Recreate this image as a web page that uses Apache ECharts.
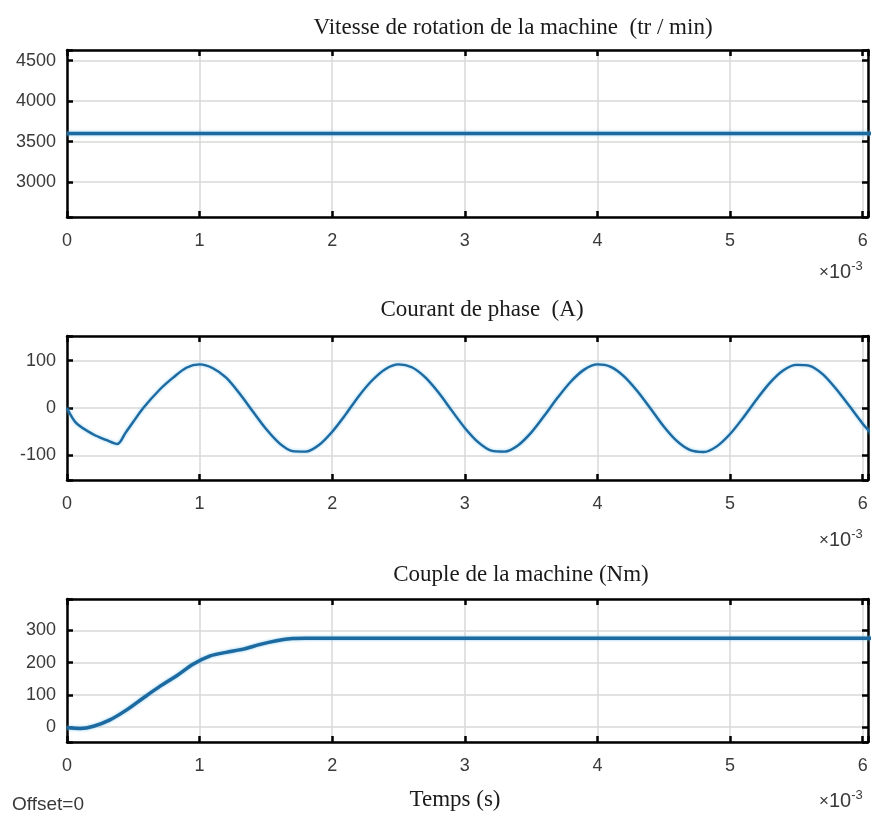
<!DOCTYPE html>
<html>
<head>
<meta charset="utf-8">
<script src="https://cdn.jsdelivr.net/npm/echarts@6/dist/echarts.min.js"></script>
<style>
  html, body { margin: 0; padding: 0; background: #fff; }
  #chart { width: 875px; height: 817px; }
</style>
</head>
<body>
<div id="chart"></div>
<script>
// temps en ms (axe affiché en x10^-3 s)
const timeTicks = [0, 1, 2, 3, 4, 5, 6];

const speedTicks = [3000, 3500, 4000, 4500];
const speedTime = [0, 6.07];
const speedValue = [3600, 3600];

const currentTicks = [-100, 0, 100];
const currentTime = [0, 0.07, 0.2, 0.3, 0.38, 0.44, 0.5, 0.575, 0.7, 0.8, 0.9, 1.0, 1.1, 1.2, 1.3, 1.4, 1.5,
  1.6, 1.7, 1.8, 1.9, 2.0, 2.1, 2.2, 2.3, 2.4, 2.5, 2.6, 2.7, 2.8, 2.9, 3.0, 3.1, 3.2, 3.3, 3.4, 3.5,
  3.6, 3.7, 3.8, 3.9, 4.0, 4.1, 4.2, 4.3, 4.4, 4.5, 4.6, 4.7, 4.8, 4.9, 5.0, 5.1, 5.2, 5.3, 5.4, 5.5,
  5.6, 5.7, 5.8, 5.9, 6.0, 6.07];
const currentValue = [0, -32, -56, -68, -76, -53, -29, 0, 39, 64, 85, 92, 84, 64, 31, -7, -44,
  -74, -91, -92, -78, -50, -14, 25, 58, 82, 92, 86, 65, 33, -5, -42, -72, -90, -92, -79, -52,
  -16, 22, 56, 81, 92, 87, 67, 36, -1, -39, -70, -89, -93, -81, -55, -20, 18, 53, 79, 91,
  89, 71, 40, 4, -33, -55];

const torqueTicks = [0, 100, 200, 300];
const torqueTime = [0, 0.1, 0.2, 0.32, 0.45, 0.575, 0.7, 0.83, 0.95, 1.08, 1.2, 1.33, 1.45, 1.58, 1.7, 1.8, 6.07];
const torqueValue = [-3, -5, 2, 21, 53, 90, 126, 160, 195, 221, 232, 242, 256, 268, 275, 276, 276];

const xMax = 6.04;
const lineColor = '#1c6aa0';
const labelFont = { color: '#3a3a3a', fontSize: 18, fontFamily: 'Liberation Sans' };

const grids = [
  { left: 67, top: 50, width: 801, height: 167 },
  { left: 67, top: 336, width: 801, height: 144 },
  { left: 67, top: 599, width: 801, height: 143 }
];
const yRanges = [[2570, 4630], [-152, 152], [-47, 398]];
const yTickLists = [speedTicks, currentTicks, torqueTicks];
const ySplit = [4, 3, 4];

function pair(t, v) {
  return t.map((x, i) => [x, v[i]]);
}

let xAxes = [], yAxes = [];
grids.forEach((g, i) => {
  ['bottom', 'top'].forEach(pos => {
    xAxes.push({
      type: 'value', gridIndex: i, position: pos,
      min: 0, max: xMax, splitNumber: 6,
      axisLine: { show: true, onZero: false, lineStyle: { color: '#000', width: 2.5 } },
      axisTick: { show: true, inside: true, length: 6, lineStyle: { color: '#000', width: 2.5 } },
      axisLabel: {
        show: pos === 'bottom', margin: 15, ...labelFont,
        formatter: v => timeTicks.includes(v) ? String(v) : ''
      },
      splitLine: { show: pos === 'bottom', lineStyle: { color: '#d9d9d9', width: 1.5 } }
    });
  });
  ['left', 'right'].forEach(pos => {
    yAxes.push({
      type: 'value', gridIndex: i, position: pos,
      min: yRanges[i][0], max: yRanges[i][1], splitNumber: ySplit[i],
      axisLine: { show: true, onZero: false, lineStyle: { color: '#000', width: 2.5 } },
      axisTick: { show: true, inside: true, length: 6, lineStyle: { color: '#000', width: 2.5 } },
      axisLabel: {
        show: pos === 'left', margin: 11, ...labelFont,
        formatter: v => yTickLists[i].includes(v) ? String(v) : ''
      },
      splitLine: { show: pos === 'left', lineStyle: { color: '#d9d9d9', width: 1.5 } }
    });
  });
});

function lineSeries(idx, data, width, smooth) {
  return {
    type: 'line', xAxisIndex: idx * 2, yAxisIndex: idx * 2,
    data: data, showSymbol: false, smooth: smooth, clip: true,
    lineStyle: { color: lineColor, width: width, shadowColor: 'rgba(110,190,235,0.8)', shadowBlur: 3 },
    animation: false
  };
}

const titleFont = { fontFamily: 'Liberation Serif', fontSize: 23, fill: '#1a1a1a', align: 'center' };
function exponent(y) {
  return {
    type: 'text', x: 819, y: y,
    style: {
      text: '{a|×}{b|10}{c|-3}',
      rich: {
        a: { fontSize: 17, fontFamily: 'Liberation Sans', fill: '#3a3a3a' },
        b: { fontSize: 20, fontFamily: 'Liberation Sans', fill: '#3a3a3a' },
        c: { fontSize: 13, fontFamily: 'Liberation Sans', fill: '#3a3a3a', verticalAlign: 'top', padding: [0, 0, 12, 0] }
      }
    }
  };
}

let chart = echarts.init(document.getElementById('chart'));
chart.setOption({
  backgroundColor: '#fff',
  animation: false,
  grid: grids,
  xAxis: xAxes,
  yAxis: yAxes,
  series: [
    lineSeries(0, pair(speedTime, speedValue), 3.5, false),
    lineSeries(1, pair(currentTime, currentValue), 2.4, 0.3),
    lineSeries(2, pair(torqueTime, torqueValue), 3.5, 0.3)
  ],
  graphic: [
    { type: 'text', x: 513, y: 16, style: Object.assign({ text: 'Vitesse de rotation de la machine  (tr / min)' }, titleFont) },
    { type: 'text', x: 482, y: 298, style: Object.assign({ text: 'Courant de phase  (A)' }, titleFont) },
    { type: 'text', x: 521, y: 563, style: Object.assign({ text: 'Couple de la machine (Nm)' }, titleFont) },
    { type: 'text', x: 455, y: 788, style: Object.assign({ text: 'Temps (s)' }, titleFont) },
    { type: 'text', x: 12, y: 795, style: { text: 'Offset=0', fontFamily: 'Liberation Sans', fontSize: 19, fill: '#3a3a3a' } },
    exponent(260),
    exponent(528),
    exponent(789)
  ]
});
</script>
</body>
</html>
